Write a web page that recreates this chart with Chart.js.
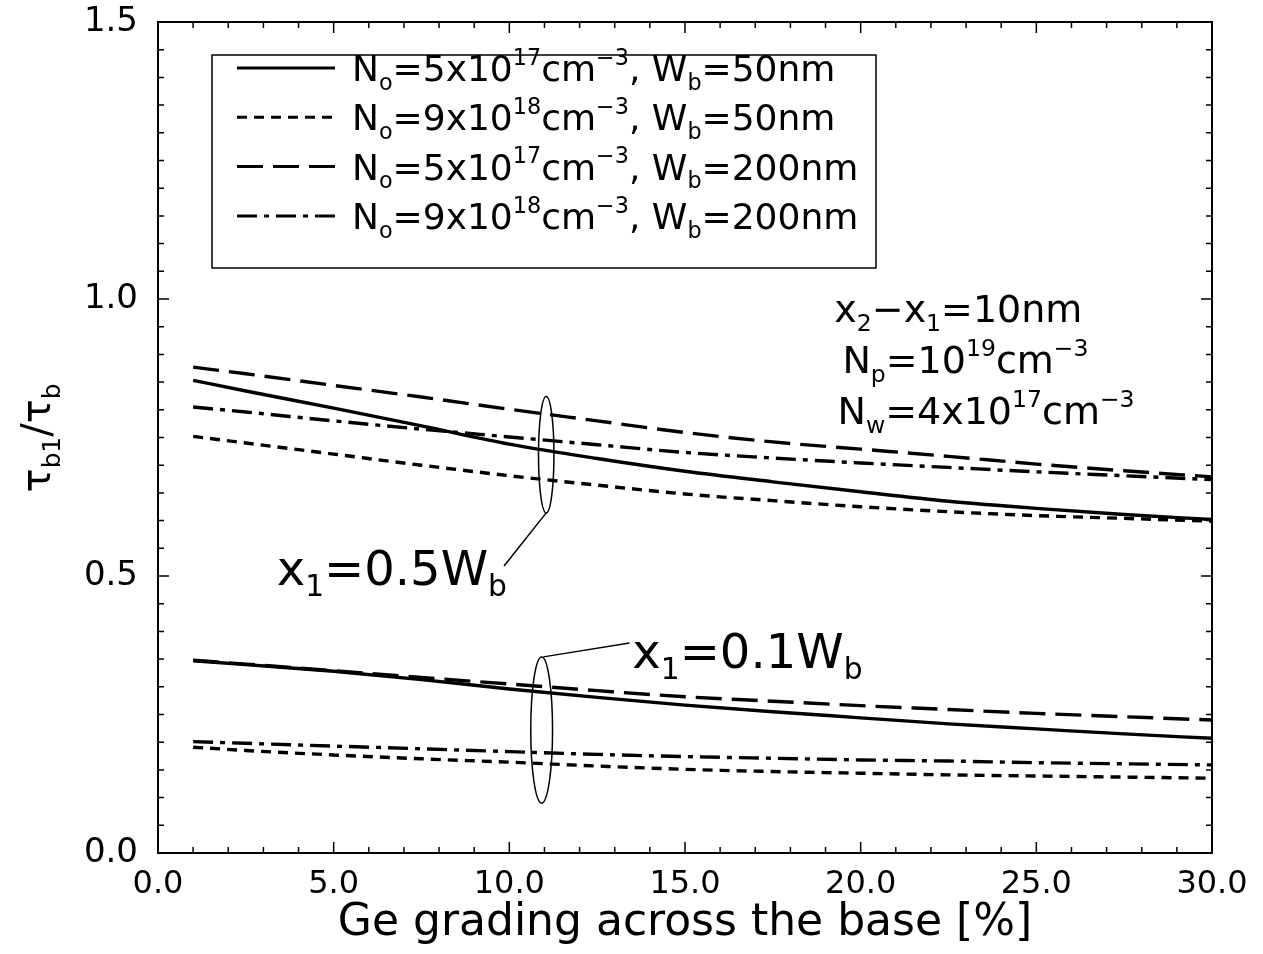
<!DOCTYPE html>
<html><head><meta charset="utf-8">
<script src="https://cdn.jsdelivr.net/npm/chart.js@4.4.1/dist/chart.umd.min.js"></script>
<style>html,body{margin:0;padding:0;background:#fff;} #wrap{width:1263px;height:954px;position:relative;}</style>
</head><body><div id="wrap"><canvas id="c" width="1263" height="954"></canvas></div>
<script>
const FONT = '"DejaVu Sans", sans-serif';

// Ge grading across the base [%]
const geGrading = [1, 2.5, 5, 7.5, 10, 12.5, 15, 17.5, 20, 22.5, 25, 27.5, 30];

// x1 = 0.5 Wb group
const up_No5e17_Wb50  = [0.853, 0.834, 0.803, 0.771, 0.738, 0.712, 0.689, 0.670, 0.652, 0.635, 0.622, 0.611, 0.602];
const up_No9e18_Wb50  = [0.752, 0.740, 0.720, 0.700, 0.681, 0.664, 0.648, 0.636, 0.625, 0.616, 0.609, 0.604, 0.599];
const up_No5e17_Wb200 = [0.877, 0.865, 0.844, 0.823, 0.801, 0.780, 0.759, 0.742, 0.729, 0.716, 0.702, 0.690, 0.679];
const up_No9e18_Wb200 = [0.805, 0.796, 0.780, 0.765, 0.751, 0.737, 0.723, 0.713, 0.704, 0.696, 0.688, 0.681, 0.674];

// x1 = 0.1 Wb group
const lo_No5e17_Wb50  = [0.347, 0.340, 0.328, 0.313, 0.296, 0.281, 0.267, 0.255, 0.244, 0.233, 0.224, 0.215, 0.207];
const lo_No9e18_Wb50  = [0.191, 0.185, 0.177, 0.170, 0.164, 0.157, 0.151, 0.147, 0.144, 0.141, 0.139, 0.137, 0.135];
const lo_No5e17_Wb200 = [0.348, 0.341, 0.329, 0.317, 0.305, 0.293, 0.282, 0.274, 0.266, 0.259, 0.252, 0.246, 0.240];
const lo_No9e18_Wb200 = [0.201, 0.198, 0.193, 0.188, 0.183, 0.178, 0.174, 0.171, 0.168, 0.166, 0.163, 0.161, 0.159];

// legend texts: [text, level] level 0 normal, -1 subscript, 1 superscript
const legendLabels = [
  [['N',0],['o',-1],['=5x10',0],['17',1],['cm',0],['\u22123',1],[', W',0],['b',-1],['=50nm',0]],
  [['N',0],['o',-1],['=9x10',0],['18',1],['cm',0],['\u22123',1],[', W',0],['b',-1],['=50nm',0]],
  [['N',0],['o',-1],['=5x10',0],['17',1],['cm',0],['\u22123',1],[', W',0],['b',-1],['=200nm',0]],
  [['N',0],['o',-1],['=9x10',0],['18',1],['cm',0],['\u22123',1],[', W',0],['b',-1],['=200nm',0]]
];
const paramLines = [
  [['x',0],['2',-1],['\u2212x',0],['1',-1],['=10nm',0]],
  [['N',0],['p',-1],['=10',0],['19',1],['cm',0],['\u22123',1]],
  [['N',0],['w',-1],['=4x10',0],['17',1],['cm',0],['\u22123',1]]
];
const labelHalf = [['x',0],['1',-1],['=0.5W',0],['b',-1]];
const labelTenth = [['x',0],['1',-1],['=0.1W',0],['b',-1]];

const DASH = { solid: [], short: [10, 7], long: [26, 10], dashdot: [20, 7, 5, 7] };
const styleOrder = ['solid', 'short', 'long', 'dashdot'];

function pts(arr) { return geGrading.map((x, i) => ({ x: x, y: arr[i] })); }
function ds(arr, style) {
  return { data: pts(arr), borderColor: '#000', borderWidth: 3.4, borderDash: DASH[style],
           pointRadius: 0, fill: false, cubicInterpolationMode: 'monotone' };
}

function drawRich(ctx, x, y, parts, size) {
  ctx.textBaseline = 'alphabetic';
  ctx.textAlign = 'left';
  let cx = x;
  for (const [t, lvl] of parts) {
    const s = lvl === 0 ? size : size * 0.62;
    const dy = lvl === -1 ? size * 0.24 : (lvl === 1 ? -size * 0.45 : 0);
    ctx.font = s + 'px ' + FONT;
    ctx.fillText(t, cx, y + dy);
    cx += ctx.measureText(t).width;
  }
  return cx - x;
}

const decor = {
  id: 'decor',
  afterDraw(chart) {
    const ctx = chart.ctx, a = chart.chartArea;
    const xs = chart.scales.x, ys = chart.scales.y;
    const X = v => xs.getPixelForValue(v), Y = v => ys.getPixelForValue(v);
    ctx.save();
    ctx.strokeStyle = '#000'; ctx.fillStyle = '#000';
    // frame
    ctx.lineWidth = 2; ctx.setLineDash([]);
    ctx.strokeRect(a.left, a.top, a.right - a.left, a.bottom - a.top);
    // inward ticks
    ctx.lineWidth = 1.5;
    xs.ticks.forEach(t => {
      const major = Math.round(t.value) % 5 === 0;
      const L = major ? 11 : 6, px = X(t.value);
      ctx.beginPath();
      ctx.moveTo(px, a.bottom); ctx.lineTo(px, a.bottom - L);
      ctx.moveTo(px, a.top); ctx.lineTo(px, a.top + L);
      ctx.stroke();
    });
    ys.ticks.forEach(t => {
      const major = Math.round(t.value * 20) % 10 === 0;
      const L = major ? 11 : 6, py = Y(t.value);
      ctx.beginPath();
      ctx.moveTo(a.left, py); ctx.lineTo(a.left + L, py);
      ctx.moveTo(a.right, py); ctx.lineTo(a.right - L, py);
      ctx.stroke();
    });
    // legend
    const lx = a.left + 54, ly = a.top + 33, lw = 664, lh = 213;
    ctx.lineWidth = 1.5;
    ctx.strokeRect(lx, ly, lw, lh);
    legendLabels.forEach((parts, i) => {
      const cy = ly + 13 + i * 49.3;
      ctx.save();
      ctx.lineWidth = 3; ctx.setLineDash(DASH[styleOrder[i]]);
      ctx.beginPath(); ctx.moveTo(lx + 25, cy); ctx.lineTo(lx + 123, cy); ctx.stroke();
      ctx.restore();
      drawRich(ctx, lx + 140, cy + 13, parts, 36);
    });
    // parameter text
    drawRich(ctx, X(19.25), Y(0.959), paramLines[0], 38);
    drawRich(ctx, X(19.48), Y(0.867), paramLines[1], 38);
    drawRich(ctx, X(19.34), Y(0.775), paramLines[2], 38);
    // ellipses and leaders
    ctx.lineWidth = 1.5; ctx.setLineDash([]);
    const e1 = { x: 11.05, y: 0.719, rx: 0.22, ry: 0.105 };
    const e2 = { x: 10.92, y: 0.222, rx: 0.31, ry: 0.132 };
    [e1, e2].forEach(e => {
      ctx.beginPath();
      ctx.ellipse(X(e.x), Y(e.y), X(e.x + e.rx) - X(e.x), Y(e.y) - Y(e.y + e.ry), 0, 0, Math.PI * 2);
      ctx.stroke();
    });
    ctx.beginPath();
    ctx.moveTo(X(e1.x), Y(e1.y - e1.ry)); ctx.lineTo(X(9.85), Y(0.518));
    ctx.moveTo(X(e2.x + 0.05), Y(e2.y + e2.ry)); ctx.lineTo(X(13.42), Y(0.379));
    ctx.stroke();
    drawRich(ctx, X(3.38), Y(0.484), labelHalf, 48);
    drawRich(ctx, X(13.5), Y(0.334), labelTenth, 48);
    // y-axis title (rotated)
    ctx.save();
    ctx.translate(50, 438);
    ctx.rotate(-Math.PI / 2);
    const parts = [['\u03c4',0],['b1',-1],['/\u03c4',0],['b',-1]];
    let w = 0;
    parts.forEach(([t, l]) => { ctx.font = (l ? 40 * 0.62 : 40) + 'px ' + FONT; w += ctx.measureText(t).width; });
    drawRich(ctx, -w / 2, 0, parts, 40);
    ctx.restore();
    ctx.restore();
  }
};

new Chart(document.getElementById('c'), {
  type: 'line',
  data: {
    datasets: [
      ds(up_No5e17_Wb50, 'solid'), ds(up_No9e18_Wb50, 'short'),
      ds(up_No5e17_Wb200, 'long'), ds(up_No9e18_Wb200, 'dashdot'),
      ds(lo_No5e17_Wb50, 'solid'), ds(lo_No9e18_Wb50, 'short'),
      ds(lo_No5e17_Wb200, 'long'), ds(lo_No9e18_Wb200, 'dashdot')
    ]
  },
  options: {
    responsive: false, animation: false, devicePixelRatio: 1,
    layout: { autoPadding: false, padding: { top: 22, right: 51, left: 0, bottom: 0 } },
    plugins: { legend: { display: false }, tooltip: { enabled: false } },
    scales: {
      x: {
        type: 'linear', min: 0, max: 30,
        grid: { display: false, drawTicks: false }, border: { display: false },
        ticks: { stepSize: 1, autoSkip: false, maxRotation: 0, padding: 12, color: '#000',
                 font: { family: FONT, size: 32 },
                 callback: v => (Math.round(v) % 5 === 0 ? v.toFixed(1) : '') },
        title: { display: true, text: 'Ge grading across the base [%]', color: '#000',
                 font: { family: FONT, size: 44 }, padding: { top: 0, bottom: 4 } },
        afterFit: s => { s.height = 101; s.paddingLeft = 0; s.paddingRight = 0; }
      },
      y: {
        min: 0, max: 1.5,
        grid: { display: false, drawTicks: false }, border: { display: false },
        ticks: { stepSize: 0.05, autoSkip: false, maxTicksLimit: 100, padding: 20, color: '#000',
                 font: { family: FONT, size: 34 },
                 callback: v => { const r = Math.round(v * 20); return r % 10 === 0 ? (r / 20).toFixed(1) : ''; } },
        afterFit: s => { s.width = 158; s.paddingTop = 0; s.paddingBottom = 0; }
      }
    }
  },
  plugins: [decor]
});
</script></body></html>
